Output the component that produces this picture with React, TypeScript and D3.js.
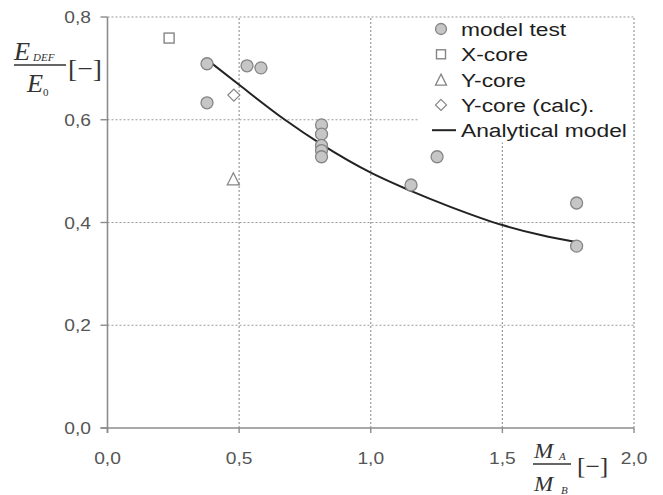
import React from "react";
import * as d3 from "d3";

// Moment ratio M_A/M_B against stiffness ratio E_DEF/E_0
const xTickValues = [0, 0.5, 1.0, 1.5, 2.0];
const yTickValues = [0, 0.2, 0.4, 0.6, 0.8];

const modelTestX = [0.378, 0.378, 0.53, 0.583, 0.813, 0.813, 0.813, 0.813, 0.813, 1.153, 1.252, 1.782, 1.782];
const modelTestY = [0.709, 0.633, 0.705, 0.701, 0.59, 0.572, 0.55, 0.54, 0.528, 0.473, 0.528, 0.438, 0.354];

const xCoreX = [0.234];
const xCoreY = [0.759];

const yCoreX = [0.478];
const yCoreY = [0.485];

const yCoreCalcX = [0.48];
const yCoreCalcY = [0.648];

const analyticalX = [0.378, 0.5, 0.674, 0.813, 1.0, 1.15, 1.3, 1.5, 1.65, 1.78];
const analyticalY = [0.717, 0.668, 0.6, 0.552, 0.497, 0.462, 0.431, 0.395, 0.375, 0.362];

const legendLabels = ["model test", "X-core", "Y-core", "Y-core (calc).", "Analytical model"];

const W = 663;
const H = 495;

const x = d3.scaleLinear().domain([0, 2]).range([107.5, 634]);
const y = d3.scaleLinear().domain([0, 0.8]).range([428, 17]);

const fmt = (v: number) => d3.format(".1f")(v).replace(".", ",");

const sans = "'Liberation Sans', Arial, Helvetica, sans-serif";
const serif = "'Liberation Serif', 'Times New Roman', serif";

const axisColor = "#8c8c8c";
const gridColor = "#9a9a9a";
const markerStroke = "#858585";
const markerFill = "#c6c6c6";
const SX = 1.2; // horizontal stretch of the lettering

function Circle({ cx, cy, r = 6 }: { cx: number; cy: number; r?: number }) {
  return <circle cx={cx} cy={cy} r={r} fill={markerFill} stroke={markerStroke} strokeWidth={1.3} />;
}
function Square({ cx, cy, s = 10 }: { cx: number; cy: number; s?: number }) {
  return <rect x={cx - s / 2} y={cy - s / 2} width={s} height={s} fill="#fff" stroke={markerStroke} strokeWidth={1.4} />;
}
function Triangle({ cx, cy, s = 12 }: { cx: number; cy: number; s?: number }) {
  const h = s;
  return (
    <path
      d={`M${cx},${cy - h / 2}L${cx + s / 2},${cy + h / 2}L${cx - s / 2},${cy + h / 2}Z`}
      fill="#fff"
      stroke={markerStroke}
      strokeWidth={1.3}
    />
  );
}
function Diamond({ cx, cy, s = 12 }: { cx: number; cy: number; s?: number }) {
  return (
    <path
      d={`M${cx},${cy - s / 2}L${cx + s / 2},${cy}L${cx},${cy + s / 2}L${cx - s / 2},${cy}Z`}
      fill="#fff"
      stroke={markerStroke}
      strokeWidth={1.2}
    />
  );
}

function Stretched({
  tx,
  ty,
  anchor = "start",
  size,
  family,
  color,
  italic = false,
  sx = SX,
  children,
}: {
  tx: number;
  ty: number;
  anchor?: string;
  size: number;
  family: string;
  color: string;
  italic?: boolean;
  sx?: number;
  children: React.ReactNode;
}) {
  return (
    <text
      transform={`translate(${tx},${ty}) scale(${sx},1)`}
      textAnchor={anchor}
      fontSize={size}
      fontFamily={family}
      fontStyle={italic ? "italic" : "normal"}
      fill={color}
    >
      {children}
    </text>
  );
}

export default function App() {
  const line = d3
    .line<number>()
    .x((_, i) => x(analyticalX[i]))
    .y((_, i) => y(analyticalY[i]))
    .curve(d3.curveMonotoneX);

  const x0 = x(0);
  const x1 = x(2);
  const y0 = y(0);
  const y1 = y(0.8);

  const legendX = 441;
  const legendY0 = 29;
  const legendStep = 25.3;

  return (
    <svg
      width={W}
      height={H}
      viewBox={`0 0 ${W} ${H}`}
      style={{ position: "absolute", left: 0, top: 0, background: "#fff" }}
    >
      <rect x={0} y={0} width={W} height={H} fill="#fff" />

      {/* dotted grid, including the top and right frame */}
      {yTickValues.filter((v) => v > 0).map((v) => (
        <line key={"gy" + v} x1={x0} x2={x1} y1={y(v)} y2={y(v)} stroke={gridColor} strokeWidth={1.2} strokeDasharray="2,2" />
      ))}
      {xTickValues.filter((v) => v > 0).map((v) => (
        <line key={"gx" + v} x1={x(v)} x2={x(v)} y1={y0} y2={y1} stroke={gridColor} strokeWidth={1.2} strokeDasharray="2,2" />
      ))}

      {/* legend panel hides the grid behind it */}
      <rect x={419} y={y1 + 1.5} width={x1 - 419 - 1.5} height={124} fill="#fff" />

      {/* axes */}
      <line x1={x0} x2={x0} y1={y1} y2={y0 + 5} stroke={axisColor} strokeWidth={1.6} />
      <line x1={x0 - 7} x2={x1} y1={y0} y2={y0} stroke={axisColor} strokeWidth={1.6} />
      {yTickValues.map((v) => (
        <line key={"ty" + v} x1={x0 - 7} x2={x0} y1={y(v)} y2={y(v)} stroke={axisColor} strokeWidth={1.4} />
      ))}
      {xTickValues.map((v) => (
        <line key={"tx" + v} x1={x(v)} x2={x(v)} y1={y0} y2={y0 + 5} stroke={axisColor} strokeWidth={1.4} />
      ))}

      {/* tick labels */}
      {yTickValues.map((v) => (
        <Stretched key={"ly" + v} tx={91} ty={y(v) + 6} anchor="end" size={16} family={sans} color="#555">
          {fmt(v)}
        </Stretched>
      ))}
      {xTickValues.map((v) => (
        <Stretched key={"lx" + v} tx={x(v)} ty={464} anchor="middle" size={16} family={sans} color="#555">
          {fmt(v)}
        </Stretched>
      ))}

      {/* analytical model curve */}
      <path d={line(analyticalX) || ""} fill="none" stroke="#222" strokeWidth={2} />

      {/* measured and computed points */}
      {modelTestX.map((v, i) => (
        <Circle key={"m" + i} cx={x(v)} cy={y(modelTestY[i])} />
      ))}
      {xCoreX.map((v, i) => (
        <Square key={"xc" + i} cx={x(v)} cy={y(xCoreY[i])} />
      ))}
      {yCoreX.map((v, i) => (
        <Triangle key={"yc" + i} cx={x(v)} cy={y(yCoreY[i])} />
      ))}
      {yCoreCalcX.map((v, i) => (
        <Diamond key={"ycc" + i} cx={x(v)} cy={y(yCoreCalcY[i])} />
      ))}

      {/* legend */}
      <Circle cx={legendX} cy={legendY0} r={5.5} />
      <Square cx={legendX} cy={legendY0 + legendStep} s={9} />
      <Triangle cx={legendX} cy={legendY0 + 2 * legendStep} s={11} />
      <Diamond cx={legendX} cy={legendY0 + 3 * legendStep} s={11} />
      <line x1={432} x2={456} y1={legendY0 + 4 * legendStep} y2={legendY0 + 4 * legendStep} stroke="#222" strokeWidth={2} />
      {legendLabels.map((t, i) => (
        <Stretched key={"lg" + i} tx={461} ty={legendY0 + i * legendStep + 7} size={19} family={sans} color="#1e1e1e">
          {t}
        </Stretched>
      ))}

      {/* y axis title: E_DEF / E_0 [-] */}
      <g fill="#333">
        <Stretched tx={14} ty={60} size={25} family={serif} color="#333" italic sx={1.05}>
          E
        </Stretched>
        <Stretched tx={33} ty={61} size={10} family={serif} color="#333" italic sx={1.1}>
          DEF
        </Stretched>
        <line x1={14} x2={66} y1={65} y2={65} stroke="#333" strokeWidth={1.3} />
        <Stretched tx={27} ty={92} size={25} family={serif} color="#333" italic sx={1.05}>
          E
        </Stretched>
        <Stretched tx={43} ty={96} size={10} family={serif} color="#333" sx={1.1}>
          0
        </Stretched>
        <Stretched tx={68} ty={77} size={25} family={serif} color="#333" sx={1.1}>
          [−]
        </Stretched>
      </g>

      {/* x axis title: M_A / M_B [-] */}
      <g>
        <Stretched tx={534} ty={458} size={22} family={serif} color="#333" italic sx={1.05}>
          M
        </Stretched>
        <Stretched tx={559} ty={460} size={10} family={serif} color="#333" italic sx={1.1}>
          A
        </Stretched>
        <line x1={533} x2={571} y1={464} y2={464} stroke="#333" strokeWidth={1.3} />
        <Stretched tx={534} ty={491} size={22} family={serif} color="#333" italic sx={1.05}>
          M
        </Stretched>
        <Stretched tx={561} ty={494} size={10} family={serif} color="#333" italic sx={1.1}>
          B
        </Stretched>
        <Stretched tx={577} ty={474} size={23} family={serif} color="#333" sx={1.1}>
          [−]
        </Stretched>
      </g>
    </svg>
  );
}
